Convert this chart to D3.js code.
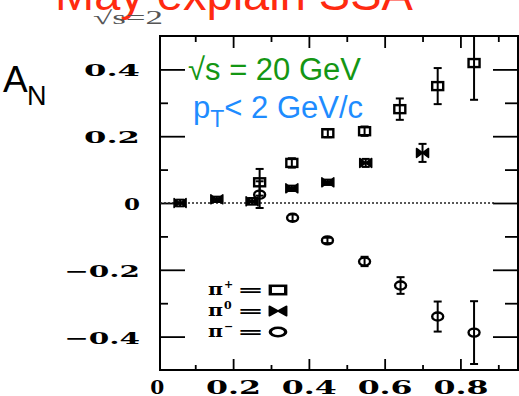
<!DOCTYPE html>
<html>
<head>
<meta charset="utf-8">
<script src="https://cdn.jsdelivr.net/npm/d3@7"></script>
<style>
  body { margin: 0; background: #fff; }
  svg { display: block; }
</style>
</head>
<body>
<svg id="chart" width="519" height="396"></svg>
<script>
// x_F values and A_N
const piPlusX = [0.27, 0.355, 0.45, 0.547, 0.64, 0.74, 0.836];
const piPlusY = [0.062, 0.12, 0.209, 0.215, 0.281, 0.35, 0.419];
const piPlusErr = [0.04, 0.014, 0.012, 0.014, 0.032, 0.054, 0.11];

const piZeroX = [0.06, 0.157, 0.25, 0.355, 0.45, 0.55, 0.70];
const piZeroY = [0.0, 0.011, 0.005, 0.044, 0.062, 0.12, 0.15];
const piZeroErr = [0.01, 0.008, 0.01, 0.008, 0.008, 0.012, 0.027];

const piMinusX = [0.27, 0.357, 0.449, 0.547, 0.642, 0.74, 0.836];
const piMinusY = [0.025, -0.044, -0.112, -0.175, -0.247, -0.34, -0.388];
const piMinusErr = [0.04, 0.01, 0.008, 0.014, 0.025, 0.045, 0.094];

const xMajor = [0.2, 0.4, 0.6, 0.8];
const xMinor = [0.1, 0.3, 0.5, 0.7, 0.9];
const xLabelVals = [0, 0.2, 0.4, 0.6, 0.8];
const xLabels = ["0", "0.2", "0.4", "0.6", "0.8"];
const yMajor = [-0.4, -0.2, 0, 0.2, 0.4];
const yMinor = [-0.3, -0.1, 0.1, 0.3];
const yLabels = ["\u22120.4", "\u22120.2", "0", "0.2", "0.4"];

const svg = d3.select("#chart");
const plotL = 160, plotR = 518, plotT = 36, plotB = 370;

const x = d3.scaleLinear().domain([0.007, 0.952]).range([plotL, plotR]);
const y = d3.scaleLinear().domain([-0.5, 0.5]).range([plotB, plotT]);

const scanFont = "'DejaVu Serif', serif";

// title, cut off at the top edge
svg.append("text")
  .attr("x", 55).attr("y", 10)
  .attr("font-family", "'Liberation Sans', Arial, sans-serif")
  .attr("font-size", 47)
  .attr("fill", "#ff2a10")
  .text("May explain SSA");

svg.append("text")
  .attr("x", 93).attr("y", 24)
  .attr("font-family", "'Liberation Serif', serif")
  .attr("font-size", 19)
  .attr("fill", "#555")
  .attr("textLength", 70).attr("lengthAdjust", "spacingAndGlyphs")
  .text("\u221As=2");

// A_N
const an = svg.append("text")
  .attr("font-family", "'Liberation Sans', Arial, sans-serif")
  .attr("fill", "#000");
an.append("tspan").attr("x", 3).attr("y", 92).attr("font-size", 37).text("A");
an.append("tspan").attr("x", 27).attr("y", 105).attr("font-size", 27).text("N");

// axes (ticks pointing inward)
function tickAxis(axis, vals, size, tr) {
  const g = svg.append("g").attr("transform", tr)
    .call(axis.tickValues(vals).tickSize(size).tickFormat(""));
  g.select(".domain").remove();
  g.selectAll("line").attr("stroke", "#000").attr("stroke-width", 1.8);
}
tickAxis(d3.axisBottom(x), xMajor, -11, `translate(0,${plotB})`);
tickAxis(d3.axisBottom(x), xMinor, -5, `translate(0,${plotB})`);
tickAxis(d3.axisTop(x), xMajor, -12, `translate(0,${plotT})`);
tickAxis(d3.axisTop(x), xMinor, -6, `translate(0,${plotT})`);
tickAxis(d3.axisLeft(y), yMajor, -25, `translate(${plotL},0)`);
tickAxis(d3.axisLeft(y), yMinor, -8, `translate(${plotL},0)`);
tickAxis(d3.axisRight(y), yMajor, -25, `translate(${plotR},0)`);
tickAxis(d3.axisRight(y), yMinor, -13, `translate(${plotR},0)`);

// frame
svg.append("rect")
  .attr("x", plotL).attr("y", plotT)
  .attr("width", plotR - plotL).attr("height", plotB - plotT)
  .attr("fill", "none").attr("stroke", "#000").attr("stroke-width", 2);

// zero line
svg.append("line")
  .attr("x1", plotL).attr("x2", x(0.89))
  .attr("y1", y(0)).attr("y2", y(0))
  .attr("stroke", "#222").attr("stroke-width", 1.3)
  .attr("stroke-dasharray", "2,2");

// tick labels, stretched to the wide scanned look
svg.selectAll(".ylab").data(yMajor).enter().append("text")
  .attr("class", "ylab")
  .attr("x", (d, i) => 142 - yLabels[i].length * 20 + 2)
  .attr("y", d => y(d) + 7)
  .attr("font-family", scanFont).attr("font-weight", "bold")
  .attr("font-size", 17)
  .attr("textLength", (d, i) => yLabels[i].length * 20 - 4)
  .attr("lengthAdjust", "spacingAndGlyphs")
  .text((d, i) => yLabels[i]);

svg.selectAll(".xlab").data(xLabelVals).enter().append("text")
  .attr("class", "xlab")
  .attr("x", (d, i) => x(d) - (xLabels[i].length === 1 ? 7 : 27))
  .attr("y", 394)
  .attr("font-family", scanFont).attr("font-weight", "bold")
  .attr("font-size", 18)
  .attr("textLength", (d, i) => xLabels[i].length === 1 ? 14 : 55)
  .attr("lengthAdjust", "spacingAndGlyphs")
  .text((d, i) => xLabels[i]);

// annotations
svg.append("text")
  .attr("x", 188).attr("y", 80)
  .attr("font-family", "'Liberation Sans', Arial, sans-serif")
  .attr("font-size", 31).attr("fill", "#149614")
  .text("\u221As = 20 GeV");

const pt = svg.append("text")
  .attr("font-family", "'Liberation Sans', Arial, sans-serif")
  .attr("fill", "#1e8cff");
pt.append("tspan").attr("x", 193).attr("y", 118).attr("font-size", 31).text("p");
pt.append("tspan").attr("y", 127).attr("font-size", 23).text("T");
pt.append("tspan").attr("y", 118).attr("font-size", 31).text("< 2 GeV/c");

// markers
function squareMark(g) {
  g.append("rect").attr("x", -5.5).attr("y", -4).attr("width", 11).attr("height", 8)
    .attr("fill", "none").attr("stroke", "#000").attr("stroke-width", 2.4);
}
function ellipseMark(g) {
  g.append("ellipse").attr("rx", 5.5).attr("ry", 4)
    .attr("fill", "none").attr("stroke", "#000").attr("stroke-width", 2.4);
}
function bowtieMark(g) {
  g.append("path").attr("d", "M-6,-4.5L6,4.5L6,-4.5L-6,4.5Z")
    .attr("fill", "#000").attr("stroke", "#000").attr("stroke-width", 1.5)
    .attr("stroke-linejoin", "round");
}

svg.append("clipPath").attr("id", "plotClip")
  .append("rect").attr("x", plotL).attr("y", plotT)
  .attr("width", plotR - plotL).attr("height", plotB - plotT);
const plot = svg.append("g").attr("clip-path", "url(#plotClip)");

function drawSeries(xs, ys, errs, mark) {
  const pts = xs.map((v, i) => ({ x: v, y: ys[i], e: errs[i] }));
  const g = plot.append("g").selectAll("g").data(pts).enter().append("g")
    .attr("transform", d => `translate(${x(d.x)},${y(d.y)})`);
  g.each(function () { mark(d3.select(this)); });
  g.append("line")
    .attr("x1", 0).attr("x2", 0)
    .attr("y1", d => y(d.y + d.e) - y(d.y)).attr("y2", d => y(d.y - d.e) - y(d.y))
    .attr("stroke", "#000").attr("stroke-width", 2);
  [1, -1].forEach(s => {
    g.append("line")
      .attr("x1", -4).attr("x2", 4)
      .attr("y1", d => y(d.y + s * d.e) - y(d.y)).attr("y2", d => y(d.y + s * d.e) - y(d.y))
      .attr("stroke", "#000").attr("stroke-width", 2);
  });
}
drawSeries(piZeroX, piZeroY, piZeroErr, bowtieMark);
drawSeries(piPlusX, piPlusY, piPlusErr, squareMark);
drawSeries(piMinusX, piMinusY, piMinusErr, ellipseMark);

// legend
const legendRows = [
  { sup: "+", mark: squareMark },
  { sup: "0", mark: bowtieMark },
  { sup: "\u2212", mark: ellipseMark }
];
legendRows.forEach((r, i) => {
  const by = 295 + i * 21;
  const t = svg.append("text")
    .attr("font-family", scanFont).attr("font-weight", "bold").attr("fill", "#000");
  t.append("tspan").attr("x", 208).attr("y", by).attr("font-size", 17)
    .attr("textLength", 15).attr("lengthAdjust", "spacingAndGlyphs").text("\u03C0");
  t.append("tspan").attr("x", 224).attr("y", by - 7).attr("font-size", 11).text(r.sup);
  t.append("tspan").attr("x", 237).attr("y", by).attr("font-size", 15)
    .attr("textLength", 27).attr("lengthAdjust", "spacingAndGlyphs").text("=");
  const m = svg.append("g").attr("transform", `translate(${278},${by - 5}) scale(1.4,1.05)`);
  r.mark(m);
});
</script>
</body>
</html>
